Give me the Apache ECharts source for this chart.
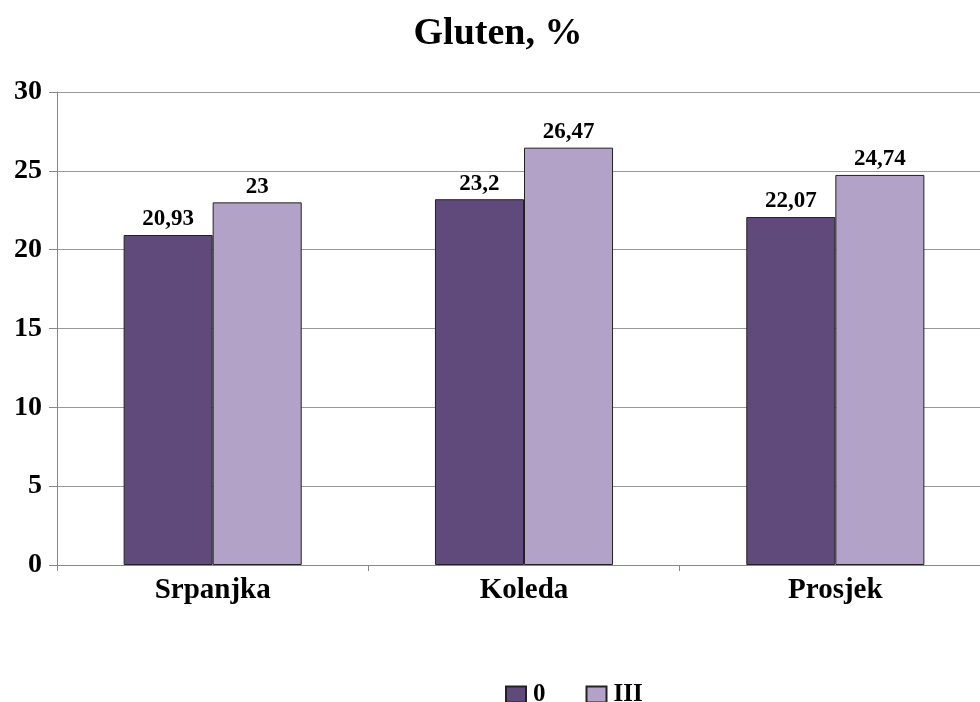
<!DOCTYPE html>
<html><head><meta charset="utf-8">
<script src="https://cdn.jsdelivr.net/npm/echarts@6/dist/echarts.min.js"></script>
<style>html,body{margin:0;padding:0;background:#fff;overflow:hidden}#c{width:1000px;height:702px}</style>
</head><body><div id="c"></div>
<script>
var categories = ['Srpanjka', 'Koleda', 'Prosjek'];
var series0 = [20.93, 23.2, 22.07];
var seriesIII = [23, 26.47, 24.74];
var seriesNames = ['0', 'III'];
var FONT = '"Liberation Serif", "Times New Roman", serif';
var chart = echarts.init(document.getElementById('c'), null, {renderer: 'canvas'});
function lbl(v){ return String(v.value).replace('.', ','); }
chart.setOption({
  animation: false,
  backgroundColor: '#fff',
  title: {text: 'Gluten, %', left: 493, textAlign: 'center', top: 10,
    textStyle: {fontFamily: FONT, fontWeight: 'bold', fontSize: 38, color: '#000'}},
  legend: {data: seriesNames, left: 500, top: 677, itemWidth: 20, itemHeight: 16, itemGap: 40, icon: 'rect',
    textStyle: {fontFamily: FONT, fontWeight: 'bold', fontSize: 25, color: '#000', padding: [0,0,0,2]}},
  grid: {left: 57, top: 92, width: 934, height: 473, containLabel: false},
  xAxis: {type: 'category', data: categories,
    axisLine: {lineStyle: {color: '#888'}},
    axisTick: {show: true, length: 6, lineStyle: {color: '#888'}},
    axisLabel: {fontFamily: FONT, fontWeight: 'bold', fontSize: 29, color: '#000', margin: 11}},
  yAxis: {type: 'value', min: 0, max: 30, interval: 5,
    axisLine: {show: true, lineStyle: {color: '#888'}},
    axisTick: {show: true, length: 8, lineStyle: {color: '#888'}},
    splitLine: {lineStyle: {color: '#999'}},
    axisLabel: {fontFamily: FONT, fontWeight: 'bold', fontSize: 28, color: '#000', margin: 15}},
  series: [
    {name: seriesNames[0], type: 'bar', data: series0, barGap: 0, barCategoryGap: '42.8%',
     itemStyle: {color: '#604A7B', borderColor: '#222', borderWidth: 1},
     label: {show: true, position: 'top', formatter: lbl, fontFamily: FONT, fontWeight: 'bold', fontSize: 23, color: '#000', distance: 4}},
    {name: seriesNames[1], type: 'bar', data: seriesIII,
     itemStyle: {color: '#B3A2C7', borderColor: '#222', borderWidth: 1},
     label: {show: true, position: 'top', formatter: lbl, fontFamily: FONT, fontWeight: 'bold', fontSize: 23, color: '#000', distance: 4}}
  ]
});
</script></body></html>
